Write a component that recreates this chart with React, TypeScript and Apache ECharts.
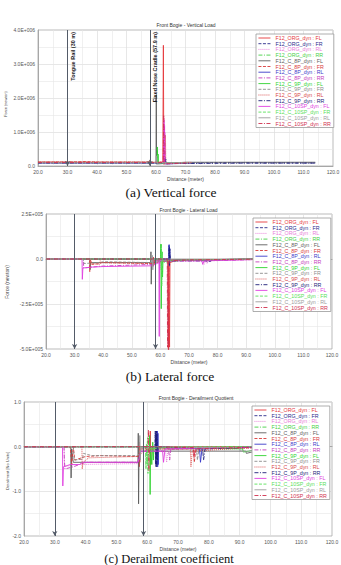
import { useEffect, useRef } from 'react';
import * as echarts from 'echarts';

// ---------- labels ----------
const seriesNames = [
  'F12_ORG_dyn : FL', 'F12_ORG_dyn : FR', 'F12_ORG_dyn : RL', 'F12_ORG_dyn : RR',
  'F12_C_8P_dyn : FL', 'F12_C_8P_dyn : FR', 'F12_C_8P_dyn : RL', 'F12_C_8P_dyn : RR',
  'F12_C_9P_dyn : FL', 'F12_C_9P_dyn : FR', 'F12_C_9P_dyn : RL', 'F12_C_9P_dyn : RR',
  'F12_C_10SP_dyn : FL', 'F12_C_10SP_dyn : FR', 'F12_C_10SP_dyn : RL', 'F12_C_10SP_dyn : RR',
];
const chartTitles = ['Front Bogie - Vertical Load', 'Front Bogie - Lateral Load', 'Front Bogie - Derailment Quotient'];
const captions = ['(a) Vertical force', '(b) Lateral force', '(c) Derailment coefficient'];
const yAxisNames = ['Force (newton)', 'Force (newton)', 'Derailment [No Units]'];
const xAxisName = 'Distance (meter)';
const yRanges = [[0, 4e6, 1e6], [-5e5, 2.5e5, 2.5e5], [-2, 1, 1]];
const markerPositions = [[30, 57.9], [30, 58.3], [30, 58.8]];
const markerLabels = ['Tongue Rail (30 m)', 'Fixed Nose Cradle (57.9 m)'];

// ---------- (a) vertical load [N] ----------
const vOrgFL = [[20, 1.15e5], [40, 1.1e5], [57.5, 1.1e5], [57.9, 1.6e5], [58.3, 1.0e5], [62.3, 1.1e5], [62.5, 3.55e6], [62.65, 0.5e5], [63, 1.0e5], [72, 1.05e5]];
const vOrgFR = [[20, 0.95e5], [62.8, 0.95e5], [63, 2.2e5], [63.2, 0.8e5], [80, 0.95e5], [114, 0.9e5]];
const vOrgRL = [[20, 1.0e5], [62.7, 1.0e5], [62.8, 1.4e6], [62.95, 0.6e5], [72, 1.0e5]];
const vOrgRR = [[20, 1.05e5], [60.2, 1.05e5], [60.4, 4.5e5], [60.6, 0.7e5], [72, 1.0e5]];
const v8FL = [[20, 1.05e5], [57.9, 1.05e5], [58, 1.8e5], [58.1, 1.0e5], [60, 1.0e5], [60.1, 2.1e6], [60.2, 0.6e5], [70, 1.1e5], [114, 1.1e5]];
const v8FR = [[20, 1.1e5], [33, 1.2e5], [36, 1.3e5], [40, 1.15e5], [62.6, 1.1e5], [62.7, 1.2e6], [62.85, 0.7e5], [72, 1.0e5]];
const v8RL = [[20, 0.9e5], [62.9, 0.9e5], [63.05, 2.6e5], [63.2, 0.6e5], [72, 0.9e5]];
const v8RR = [[20, 1.0e5], [62.9, 1.0e5], [63.0, 1.0e6], [63.15, 0.8e5], [72, 1.0e5]];
const v9FL = [[20, 1.0e5], [60.3, 1.0e5], [60.45, 5.6e5], [60.6, 1.2e5], [60.7, 3.5e5], [60.85, 0.8e5], [72, 1.0e5]];
const v9FR = [[20, 1.0e5], [60.2, 1.0e5], [60.3, 2.5e5], [60.45, 0.9e5], [72, 1.0e5]];
const v9RL = [[20, 1.1e5], [63.1, 1.1e5], [63.2, 9e5], [63.35, 0.8e5], [72, 1.05e5]];
const v9RR = [[20, 0.9e5], [63.2, 0.9e5], [63.3, 2.0e5], [63.45, 0.7e5], [90, 0.85e5], [114, 0.85e5]];
const v10FL = [[20, 1.0e5], [62.55, 1.0e5], [62.65, 1.35e6], [62.8, 0.7e5], [62.9, 1.2e6], [63.05, 0.8e5], [72, 1.0e5]];
const v10FR = [[20, 1.0e5], [60.5, 1.0e5], [60.6, 3.2e5], [60.75, 0.9e5], [72, 1.0e5]];
const v10RL = [[20, 1.0e5], [60.0, 1.0e5], [60.1, 3.0e5], [60.25, 0.9e5], [72, 1.0e5]];
const v10RR = [[20, 1.05e5], [62.45, 1.05e5], [62.6, 1.5e6], [62.7, 1.0e6], [62.75, 0.6e5], [72, 1.0e5]];

// ---------- (b) lateral load [N] ----------
const lOrgFL = [[20, 0], [57.2, 0], [57.4, -0.4e5], [57.6, 0.1e5], [57.8, -0.3e5], [58, 0], [62.7, 0], [62.8, -5.3e5], [62.95, 0], [63.2, -4.9e5], [63.35, -0.2e5], [66, -0.05e5], [100, 0]];
const lOrgFR = [[20, 0], [62.9, 0], [63.0, 0.75e5], [63.1, -0.3e5], [63.2, 0.5e5], [63.35, -0.1e5], [70, -0.05e5], [100, 0]];
const lOrgRL = [[20, 0], [59.8, 0], [59.9, -0.6e5], [60.0, -0.1e5], [75, -0.1e5], [75.3, -0.3e5], [75.8, -0.1e5], [100, 0]];
const lOrgRR = [[20, 0], [60.1, 0], [60.2, 0.8e5], [60.35, -0.2e5], [70, -0.05e5], [100, 0]];
const l8FL = [[20, 0], [35.3, 0], [35.4, -0.6e5], [35.6, -0.2e5], [56.6, -0.2e5], [56.7, 0.4e5], [56.8, -1.4e5], [56.95, -0.2e5], [60, -0.15e5], [65, -0.05e5], [100, 0]];
const l8FR = [[20, 0], [35.2, 0], [35.3, -0.7e5], [35.5, -0.05e5], [36, -0.3e5], [39, -0.25e5], [39.5, -0.2e5], [57, -0.25e5], [57.5, -0.4e5], [58, -0.1e5], [70, -0.05e5], [100, 0]];
const l8RL = [[20, 0], [62.95, 0], [63.05, 0.8e5], [63.15, -0.4e5], [63.25, 0.6e5], [63.4, -0.1e5], [66, -0.05e5], [100, 0]];
const l8RR = [[20, 0], [33, 0], [33.2, -0.5e5], [36, -0.45e5], [39, -0.4e5], [57, -0.3e5], [58, -0.1e5], [76, -0.1e5], [76.3, -0.25e5], [76.8, -0.1e5], [100, 0]];
const l9FL = [[20, 0], [60.1, 0], [60.2, 0.83e5], [60.3, -2.76e5], [60.45, -0.1e5], [60.6, 0.4e5], [60.75, -1.0e5], [60.9, -0.1e5], [70, -0.05e5], [100, 0]];
const l9FR = [[20, 0], [33, 0], [33.3, -0.25e5], [39, -0.2e5], [40, -0.15e5], [57, -0.2e5], [58, -0.1e5], [75, -0.05e5], [100, 0]];
const l9RL = [[20, 0], [35.5, 0], [36, -0.25e5], [38.7, -0.3e5], [39, -0.1e5], [39.5, -0.2e5], [57, -0.25e5], [64, -0.05e5], [100, 0]];
const l9RR = [[20, 0], [63.0, 0], [63.1, 0.7e5], [63.2, -0.35e5], [63.3, 0.55e5], [63.45, -0.1e5], [77, -0.1e5], [77.3, -0.2e5], [77.7, -0.05e5], [100, 0]];
const l10FL = [[20, 0], [32.6, 0], [32.7, -1.13e5], [32.9, -0.5e5], [36, -0.45e5], [40, -0.42e5], [57, -0.38e5], [59.5, -0.2e5], [59.6, -4.3e5], [59.7, -0.1e5], [74.5, -0.1e5], [74.8, -0.3e5], [75.2, -0.1e5], [100, 0]];
const l10FR = [[20, 0], [60.3, 0], [60.4, 0.5e5], [60.5, -1.5e5], [60.65, -0.1e5], [70, -0.05e5], [100, 0]];
const l10RL = [[20, 0], [57.1, 0], [57.2, 0.2e5], [57.35, -0.6e5], [57.5, 0], [100, 0]];
const l10RR = [[20, 0], [62.4, 0], [62.5, -4.9e5], [62.6, -0.1e5], [62.9, -5.3e5], [63.0, -0.1e5], [70, -0.05e5], [100, 0]];

// ---------- (c) derailment quotient ----------
const dOrgFL = [[20, 0], [57.3, 0], [57.4, -0.45], [57.5, 0.1], [57.6, -0.35], [57.75, 0], [60.9, 0], [61.0, 0.35], [61.15, -0.4], [61.3, 0], [100, 0]];
const dOrgFR = [[20, 0], [62.5, 0], [62.6, 0.35], [62.7, -0.4], [62.8, 0.3], [62.9, -0.45], [63.0, 0.35], [63.1, -0.3], [63.25, 0], [68, -0.05], [100, 0]];
const dOrgRL = [[20, 0], [33, 0], [33.2, -0.45], [35, -0.42], [36.5, -0.4], [57, -0.38], [57.5, -0.1], [66, -0.1], [66.3, -0.35], [66.8, -0.05], [100, 0]];
const dOrgRR = [[20, 0], [59.5, 0], [59.6, -0.5], [59.75, 0.05], [60, -0.4], [60.2, 0], [70, -0.02], [100, 0]];
const d8FL = [[20, 0], [35.2, 0], [35.3, -0.7], [35.45, -0.05], [36, -0.35], [57, -0.35], [57.1, 0.3], [57.2, -1.28], [57.35, -0.2], [58, -0.1], [92, -0.1], [92.2, -0.15], [94, -0.12], [100, 0]];
const d8FR = [[20, 0], [35, 0], [35.5, -0.4], [36, 0], [36.5, -0.3], [40, -0.22], [45, -0.2], [57, -0.22], [58, -0.05], [75, -0.05], [75.3, -0.35], [75.8, -0.05], [100, -0.02]];
const d8RL = [[20, 0], [63.2, 0], [63.3, 0.35], [63.4, -0.45], [63.5, 0.3], [63.6, -0.4], [63.7, 0], [77, -0.05], [77.3, -0.35], [77.8, -0.05], [100, 0]];
const d8RR = [[20, 0], [33, 0], [33.1, -0.3], [33.3, -0.5], [36, -0.45], [40, -0.35], [57, -0.35], [58, -0.1], [67, -0.1], [67.3, -0.3], [67.7, -0.05], [100, 0]];
const d9FL = [[20, 0], [60.7, 0], [60.8, 0.25], [60.95, -1.07], [61.1, -0.05], [61.5, -0.4], [61.8, 0.1], [62.0, -0.3], [62.2, 0], [70, -0.03], [91, -0.05], [91.2, -0.12], [93, -0.1], [100, 0]];
const d9FR = [[20, 0], [36, 0], [36.3, -0.3], [39, -0.28], [39.3, -0.15], [42, -0.2], [57, -0.2], [58, -0.05], [76, -0.05], [76.3, -0.3], [76.8, -0.05], [100, 0]];
const d9RL = [[20, 0], [38.8, 0], [38.9, -0.5], [39.2, -0.35], [41, -0.25], [57, -0.22], [60, -0.05], [74, -0.05], [74.2, -0.45], [74.6, -0.1], [100, 0]];
const d9RR = [[20, 0], [62.7, 0], [62.8, 0.35], [62.9, -0.45], [63.0, 0.35], [63.1, -0.45], [63.2, 0.3], [63.35, -0.3], [63.5, 0], [78, -0.05], [78.3, -0.3], [78.8, -0.05], [100, 0]];
const d10FL = [[20, 0], [32.5, 0], [32.6, -0.88], [32.8, -0.45], [35, -0.4], [38, -0.4], [39, -0.35], [57, -0.35], [58, -0.1], [65, -0.1], [65.3, -0.35], [65.8, -0.05], [100, 0]];
const d10FR = [[20, 0], [60.0, 0], [60.1, 0.2], [60.25, -0.6], [60.4, -0.05], [70, 0], [100, 0]];
const d10RL = [[20, 0], [57.5, 0], [57.6, 0.25], [57.75, -0.3], [57.9, 0], [90, -0.02], [90.2, -0.1], [93, -0.1], [100, 0]];
const d10RR = [[20, 0], [60.3, 0], [60.4, 0.38], [60.55, -0.55], [60.7, 0], [75, -0.02], [75.2, -0.25], [75.6, -0.05], [100, 0]];

const verticalLoad = [vOrgFL, vOrgFR, vOrgRL, vOrgRR, v8FL, v8FR, v8RL, v8RR, v9FL, v9FR, v9RL, v9RR, v10FL, v10FR, v10RL, v10RR];
const lateralLoad = [lOrgFL, lOrgFR, lOrgRL, lOrgRR, l8FL, l8FR, l8RL, l8RR, l9FL, l9FR, l9RL, l9RR, l10FL, l10FR, l10RL, l10RR];
const derailment = [dOrgFL, dOrgFR, dOrgRL, dOrgRR, d8FL, d8FR, d8RL, d8RR, d9FL, d9FR, d9RL, d9RR, d10FL, d10FR, d10RL, d10RR];
const chartData = [verticalLoad, lateralLoad, derailment];

// ---------- styles / layout ----------
const seriesColors = ['#e5383b', '#2a2a8a', '#e87ad8', '#45d045', '#5e5e5e', '#d83a3a', '#3a3ac8', '#c43cbc', '#2fd32f', '#8c8c8c', '#d84848', '#1e1e78', '#e03ee0', '#58e058', '#9c9c9c', '#d0304e'];
const DASH: any = [3, 1.5];
const DOT: any = [1, 1];
const DASHDOT: any = [4, 1.5, 1, 1.5];
const seriesDash: any[] = ['solid', DASH, DOT, DASHDOT, 'solid', DASH, 'solid', DASHDOT, 'solid', DASH, DOT, DASHDOT, 'solid', DASH, 'solid', DASHDOT];
const grids = [
  { left: 38, top: 30, width: 295, height: 136 },
  { left: 46, top: 214, width: 286, height: 135 },
  { left: 24, top: 402, width: 308, height: 134 },
];
const legendPos = [{ left: 256, top: 34 }, { left: 253, top: 218 }, { left: 252, top: 406 }];
const titlePos = [[186, 25], [188.5, 210], [196, 398]];
const captionPos = [[171, 192], [170, 376], [169, 558.5]];
const captionSize = [13.5, 13.5, 12.5];
const yNamePos = [[6, 104], [7, 282], [7, 471]];
const yNameSize = [3.8, 5, 4];
const FONT = 'Liberation Sans, Arial, sans-serif';

function sci(v: number): string {
  if (v === 0) return '0.0';
  const e = Math.floor(Math.log10(Math.abs(v)) + 1e-9);
  const m = v / Math.pow(10, e);
  return m.toFixed(1) + 'E+' + String(e).padStart(3, '0');
}

function buildOption(): any {
  const series: any[] = [];
  chartData.forEach((chart, k) => {
    chart.forEach((pts, i) => {
      const s: any = {
        type: 'line',
        name: seriesNames[i],
        xAxisIndex: k,
        yAxisIndex: k,
        data: pts,
        symbol: 'none',
        silent: true,
        clip: true,
        lineStyle: { color: seriesColors[i], width: 0.9, type: seriesDash[i] },
        itemStyle: { color: seriesColors[i] },
        z: 3,
      };
      if (i === 0) {
        s.markLine = {
          silent: true,
          symbol: ['arrow', 'none'],
          symbolSize: [4, 5],
          lineStyle: { color: '#535b68', width: 1, type: 'solid' },
          label: k === 0
            ? { show: true, formatter: '{b}', position: 'insideEndBottom', fontSize: 5.5, fontWeight: 'bold', color: '#222', distance: 2, fontFamily: FONT }
            : { show: false },
          data: markerPositions[k].map((x, j) => ({ xAxis: x, name: k === 0 ? markerLabels[j] : '' })),
        };
      }
      series.push(s);
    });
  });

  const xAxis = grids.map((_, k) => ({
    type: 'value',
    gridIndex: k,
    min: 20,
    max: 120,
    interval: 10,
    name: xAxisName,
    nameLocation: 'middle',
    nameGap: 10,
    nameTextStyle: { fontSize: 5, color: '#444', fontFamily: FONT },
    axisLabel: { fontSize: 5, color: '#555', margin: 3, formatter: (v: number) => v.toFixed(1), fontFamily: FONT },
    axisLine: { lineStyle: { color: '#999', width: 0.8 } },
    axisTick: { show: false },
    splitLine: { show: true, lineStyle: { color: '#dcdcdc', width: 0.7 } },
    minorTick: { show: false, splitNumber: 2 },
    minorSplitLine: { show: true, lineStyle: { color: '#e6e6e6', width: 0.6 } },
  }));

  const yAxis = grids.map((_, k) => ({
    type: 'value',
    gridIndex: k,
    min: yRanges[k][0],
    max: yRanges[k][1],
    interval: yRanges[k][2],
    axisLabel: {
      fontSize: 5, color: '#555', margin: 3, fontFamily: FONT,
      formatter: (v: number) => (k === 2 ? v.toFixed(1) : sci(v)),
    },
    axisLine: { show: true, lineStyle: { color: '#999', width: 0.8 } },
    axisTick: { show: false },
    splitLine: { show: true, lineStyle: { color: '#dcdcdc', width: 0.7 } },
    minorTick: { show: false, splitNumber: 2 },
    minorSplitLine: { show: true, lineStyle: { color: '#e6e6e6', width: 0.6 } },
  }));

  const legend = legendPos.map((p) => ({
    orient: 'vertical',
    left: p.left,
    top: p.top,
    selectedMode: false,
    itemWidth: 12,
    itemHeight: 5,
    itemGap: 0.7,
    padding: [1.5, 3, 1.5, 2],
    borderColor: '#999',
    borderWidth: 0.8,
    borderRadius: 0,
    backgroundColor: '#fff',
    itemStyle: { opacity: 0 },
    lineStyle: { width: 0.9 },
    textStyle: { fontSize: 5.3, lineHeight: 5, fontFamily: FONT },
    data: seriesNames.map((n, i) => ({ name: n, textStyle: { color: seriesColors[i] } })),
    z: 5,
  }));

  const graphic: any[] = [];
  chartTitles.forEach((t, k) => {
    graphic.push({
      type: 'text', x: titlePos[k][0], y: titlePos[k][1], silent: true,
      style: { text: t, fontSize: 5, fill: '#333', align: 'center', verticalAlign: 'middle', fontFamily: FONT },
    });
  });
  yAxisNames.forEach((t, k) => {
    graphic.push({
      type: 'text', x: yNamePos[k][0], y: yNamePos[k][1], rotation: Math.PI / 2, silent: true,
      style: { text: t, fontSize: yNameSize[k], fill: '#444', align: 'center', verticalAlign: 'middle', fontFamily: FONT },
    });
  });
  captions.forEach((t, k) => {
    graphic.push({
      type: 'text', x: captionPos[k][0], y: captionPos[k][1], silent: true,
      style: { text: t, fontSize: captionSize[k], fill: '#111', align: 'center', verticalAlign: 'middle', fontFamily: 'Liberation Serif, Times New Roman, serif' },
    });
  });

  return {
    animation: false,
    backgroundColor: '#fff',
    textStyle: { fontFamily: FONT },
    grid: grids.map((g) => ({ ...g, show: true, borderColor: '#aaa', borderWidth: 0.8, backgroundColor: 'transparent', containLabel: false, outerBoundsMode: 'none' })),
    xAxis,
    yAxis,
    legend,
    series,
    graphic,
  };
}

export default function App() {
  const ref = useRef<HTMLDivElement>(null);
  useEffect(() => {
    document.body.style.margin = '0';
    const chart = echarts.init(ref.current as HTMLDivElement, null, { renderer: 'svg' });
    chart.setOption(buildOption());
    return () => chart.dispose();
  }, []);
  return <div ref={ref} style={{ width: 341, height: 565 }} />;
}
